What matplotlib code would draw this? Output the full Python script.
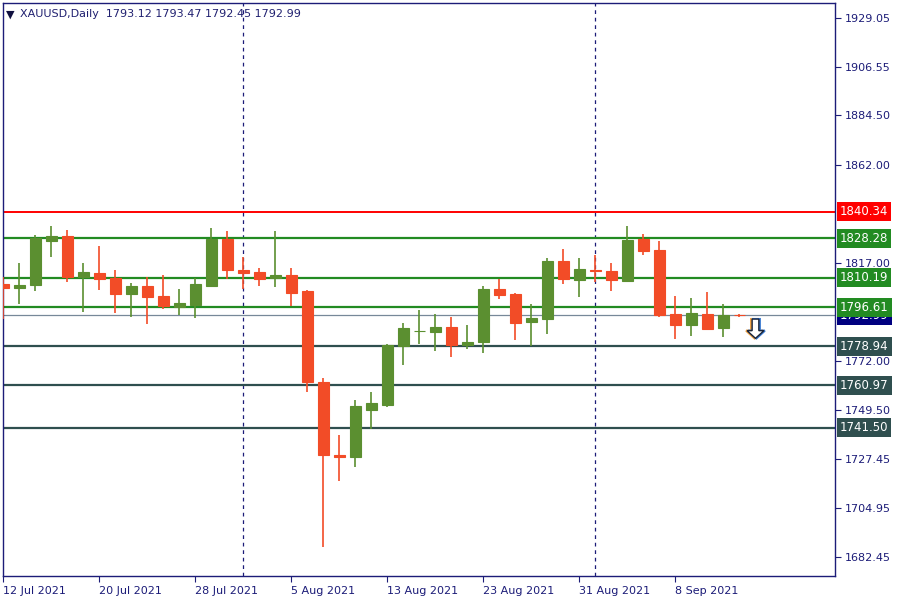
import numpy as np
import pandas as pd
import matplotlib
matplotlib.use("Agg")
import matplotlib.pyplot as plt
from matplotlib.patches import FancyArrow

# daily XAUUSD candles, 12 Jul 2021 .. 14 Sep 2021
dates = pd.bdate_range("2021-07-12", "2021-09-14")
opens = [1807.35, 1805.66, 1806.90, 1827.10, 1829.20, 1810.55, 1812.40, 1810.20, 1802.90, 1806.40,
         1801.85, 1796.80, 1797.70, 1806.60, 1828.10, 1813.80, 1812.80, 1809.95, 1811.50, 1804.15,
         1762.50, 1729.10, 1728.35, 1749.85, 1752.10, 1779.10, 1785.70, 1785.50, 1787.70, 1779.45,
         1780.95, 1805.05, 1802.80, 1790.10, 1791.35, 1817.80, 1809.30, 1813.80, 1813.30, 1808.70,
         1827.95, 1822.90, 1793.60, 1788.70, 1793.60, 1787.20, 1793.12]
highs = [1810.42, 1817.10, 1829.90, 1834.00, 1832.05, 1817.10, 1824.70, 1813.80, 1807.90, 1810.70,
         1811.50, 1805.05, 1809.90, 1832.98, 1831.60, 1819.80, 1814.80, 1831.60, 1814.70, 1804.60,
         1764.35, 1738.30, 1754.30, 1757.90, 1779.90, 1789.50, 1795.45, 1793.60, 1792.25, 1788.60,
         1806.45, 1809.60, 1803.20, 1798.20, 1819.25, 1823.40, 1819.25, 1820.60, 1817.00, 1833.90,
         1830.25, 1827.00, 1801.85, 1800.95, 1803.70, 1798.20, 1793.47]
lows = [1791.20, 1798.20, 1804.30, 1819.80, 1808.40, 1794.70, 1804.60, 1794.20, 1792.40, 1789.20,
        1796.00, 1793.10, 1791.90, 1806.10, 1809.80, 1805.20, 1806.60, 1806.10, 1797.30, 1758.10,
        1687.20, 1717.35, 1723.80, 1741.10, 1751.20, 1770.40, 1780.00, 1776.80, 1774.10, 1777.75,
        1775.90, 1800.60, 1781.70, 1779.00, 1784.50, 1807.50, 1801.55, 1808.40, 1804.30, 1808.40,
        1820.60, 1792.10, 1782.05, 1783.70, 1786.50, 1783.10, 1792.45]
closes = [1805.66, 1806.90, 1828.26, 1829.20, 1810.70, 1812.80, 1809.70, 1802.90, 1806.40, 1801.40,
          1797.30, 1798.60, 1807.35, 1828.10, 1813.90, 1812.50, 1809.80, 1811.50, 1803.40, 1762.65,
          1729.25, 1728.35, 1751.50, 1752.90, 1779.45, 1787.20, 1786.00, 1787.70, 1779.45, 1780.80,
          1805.05, 1802.45, 1789.65, 1791.80, 1817.80, 1809.80, 1814.20, 1813.45, 1809.30, 1827.50,
          1822.45, 1793.10, 1788.70, 1794.00, 1786.90, 1793.00, 1792.99]

# horizontal levels drawn on the chart
green_levels = [1828.28, 1810.19, 1796.61]
dark_levels = [1778.94, 1760.97, 1741.50]
red_level = 1840.34
bid = 1792.99

y_ticks = [1929.05, 1906.55, 1884.50, 1862.00, 1817.00, 1772.00, 1749.50, 1727.45, 1704.95, 1682.45]
x_tick_labels = ["12 Jul 2021", "20 Jul 2021", "28 Jul 2021", "5 Aug 2021",
                 "13 Aug 2021", "23 Aug 2021", "31 Aug 2021", "8 Sep 2021"]
separators = ["2021-08-02", "2021-09-01"]  # first bar of each month

UP = "#5b8f30"
DOWN = "#f24c27"
NAVY = "#1c1c78"
LEVEL_GREEN = "#228b22"
LEVEL_DARK = "#2f4f4f"

fig = plt.figure(figsize=(9, 6), dpi=100)
ax = fig.add_axes([3 / 900, 24 / 600, 832 / 900, 573 / 600])

x = np.arange(len(dates))
o = np.array(opens)
c = np.array(closes)
cols = [UP if cc >= oo else DOWN for oo, cc in zip(o, c)]

# period separators
for s in separators:
    ax.axvline(dates.get_loc(pd.Timestamp(s)), color=NAVY, lw=0.9, ls=(0, (3, 3)), zorder=1)

# levels
ax.axhline(red_level, color="#ff0000", lw=1.4, zorder=2)
for lv in green_levels:
    ax.axhline(lv, color=LEVEL_GREEN, lw=1.6, zorder=2)
for lv in dark_levels:
    ax.axhline(lv, color=LEVEL_DARK, lw=1.6, zorder=2)
ax.axhline(bid, color="#778899", lw=0.9, zorder=2)

# candles
ax.vlines(x, lows, highs, colors=cols, lw=1.2, zorder=3)
ax.bar(x, np.abs(c - o), bottom=np.minimum(o, c), width=0.66, color=cols,
       edgecolor=cols, linewidth=0.8, zorder=4)

# down arrow after the last bar (orange/blue rim like the terminal icon)
arrow_kw = dict(width=0.42, head_width=1.05, head_length=3.5, length_includes_head=True)
ax.add_patch(FancyArrow(len(dates) - 0.06, 1791.3, 0, -8.8, facecolor="none",
                        edgecolor="#f0a040", lw=1.6, zorder=5, **arrow_kw))
ax.add_patch(FancyArrow(len(dates) + 0.06, 1791.3, 0, -8.8, facecolor="none",
                        edgecolor="#3a7ad0", lw=1.6, zorder=5, **arrow_kw))
ax.add_patch(FancyArrow(len(dates), 1791.3, 0, -8.8, facecolor="white",
                        edgecolor="#1a2438", lw=1.0, zorder=6, **arrow_kw))

ax.set_xlim(-0.03, 51.97)
ax.set_ylim(1673.76, 1935.91)

# axes styling
for sp in ax.spines.values():
    sp.set_color(NAVY)
    sp.set_linewidth(1.0)
ax.yaxis.tick_right()
ax.set_yticks(y_ticks)
ax.set_yticklabels([f"{v:.2f}" for v in y_ticks])
ax.tick_params(axis="y", direction="out", length=4, width=0.8, colors=NAVY, labelsize=8, pad=3)

tick_pos = [dates.get_loc(pd.Timestamp(d)) for d in
            pd.to_datetime(x_tick_labels, format="%d %b %Y")]
ax.set_xticks(tick_pos)
ax.set_xticklabels(x_tick_labels, ha="left")
ax.tick_params(axis="x", direction="out", length=4, width=0.8, colors=NAVY, labelsize=8, pad=3)

# price boxes on the right scale
ytr = ax.get_yaxis_transform()
box_kw = dict(transform=ytr, ha="left", va="center", fontsize=8.5, color="white",
              clip_on=False, zorder=10)
ax.text(1.006, bid, f"{bid:.2f}", bbox=dict(boxstyle="square,pad=0.25", fc="#000080", ec="none"), **box_kw)
ax.text(1.006, red_level, f"{red_level:.2f}", bbox=dict(boxstyle="square,pad=0.25", fc="#ff0000", ec="none"), **box_kw)
for lv in green_levels:
    ax.text(1.006, lv, f"{lv:.2f}", bbox=dict(boxstyle="square,pad=0.25", fc=LEVEL_GREEN, ec="none"), **box_kw)
for lv in dark_levels:
    ax.text(1.006, lv, f"{lv:.2f}", bbox=dict(boxstyle="square,pad=0.25", fc=LEVEL_DARK, ec="none"), **box_kw)

# header
last = len(dates) - 1
ax.text(0.004, 0.988, "\u25bc", transform=ax.transAxes, fontsize=8, color="#101040",
        va="top", ha="left")
ax.text(0.021, 0.989,
        f"XAUUSD,Daily  {opens[last]:.2f} {highs[last]:.2f} {lows[last]:.2f} {closes[last]:.2f}",
        transform=ax.transAxes, fontsize=8, color="#202070", va="top", ha="left")

fig.savefig("out.png", dpi=100)
